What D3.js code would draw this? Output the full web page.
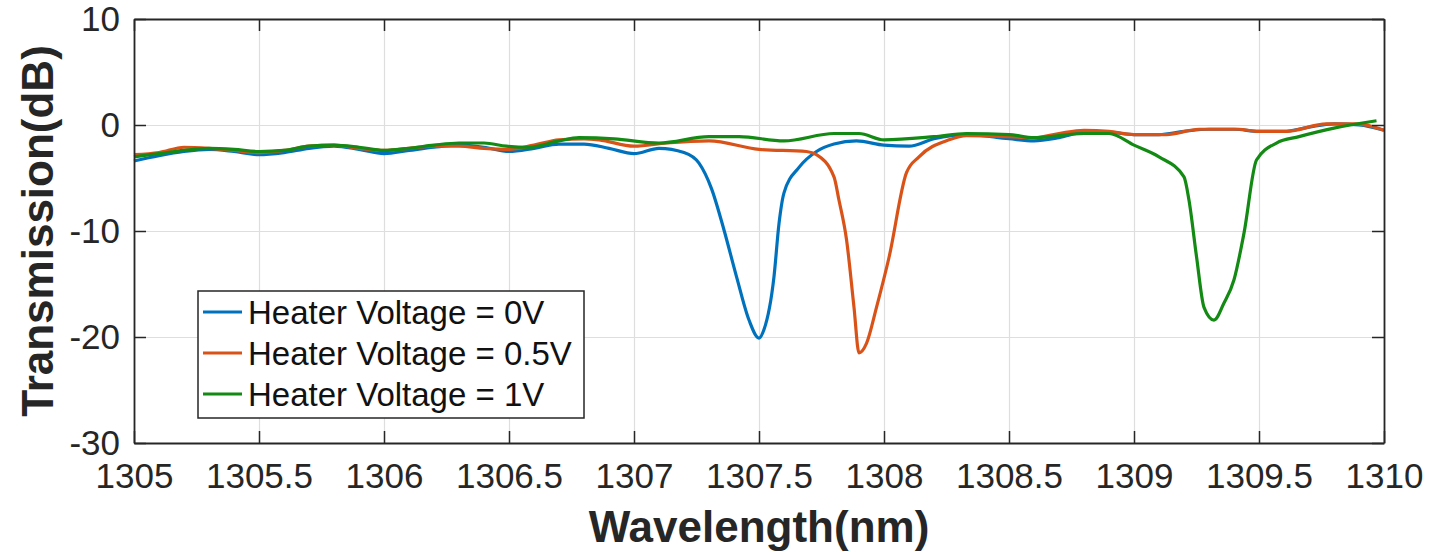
<!DOCTYPE html>
<html>
<head>
<meta charset="utf-8">
<script src="https://cdn.jsdelivr.net/npm/d3@7"></script>
<style>
  body { margin: 0; background: #fff; }
  svg { display: block; font-family: "Liberation Sans", Arial, Helvetica, sans-serif; }
  .tick line { stroke: #262626; }
  .grid .tick line { stroke: #dedede; stroke-width: 1.2; }
  .grid path { display: none; }
</style>
</head>
<body>
<svg id="vis" width="1430" height="552"></svg>
<script>
// wavelength (nm) and transmission (dB), per heater voltage
const wl0 = [1305.00, 1305.10, 1305.20, 1305.30, 1305.40, 1305.50, 1305.60, 1305.70, 1305.80, 1305.90,
  1306.00, 1306.10, 1306.20, 1306.30, 1306.40, 1306.50, 1306.60, 1306.70, 1306.80, 1306.90,
  1307.00, 1307.10, 1307.20, 1307.26, 1307.31, 1307.36, 1307.41, 1307.46, 1307.50, 1307.52,
  1307.56, 1307.58, 1307.60, 1307.66, 1307.73, 1307.80, 1307.89, 1308.00, 1308.10, 1308.20,
  1308.33, 1308.50, 1308.60, 1308.70, 1308.80, 1308.90, 1309.00, 1309.10, 1309.20, 1309.30,
  1309.40, 1309.50, 1309.60, 1309.70, 1309.80, 1309.90, 1310.00];
const tr0 = [-3.4, -2.9, -2.5, -2.3, -2.5, -2.8, -2.6, -2.2, -2.0, -2.3,
  -2.7, -2.4, -2.1, -1.9, -2.1, -2.5, -2.2, -1.8, -1.8, -2.2,
  -2.7, -2.2, -2.6, -3.6, -6.0, -9.9, -14.3, -18.4, -20.1, -19.3,
  -14.3, -9.3, -6.4, -4.0, -2.5, -1.8, -1.5, -1.9, -2.0, -1.3,
  -0.9, -1.3, -1.5, -1.2, -0.7, -0.7, -0.9, -0.9, -0.6, -0.4,
  -0.4, -0.6, -0.6, -0.2, 0.1, 0.0, -0.5];

const wl05 = [1305.00, 1305.10, 1305.20, 1305.30, 1305.40, 1305.50, 1305.60, 1305.70, 1305.80, 1305.90,
  1306.00, 1306.10, 1306.20, 1306.30, 1306.40, 1306.50, 1306.60, 1306.70, 1306.80, 1306.86,
  1307.00, 1307.13, 1307.30, 1307.50, 1307.69, 1307.73, 1307.80, 1307.82, 1307.85, 1307.88,
  1307.90, 1307.93, 1307.97, 1308.02, 1308.09, 1308.14, 1308.26, 1308.33, 1308.50, 1308.60,
  1308.70, 1308.80, 1308.90, 1309.00, 1309.13, 1309.26, 1309.42, 1309.49, 1309.61, 1309.77,
  1309.89, 1310.00];
const tr05 = [-2.8, -2.6, -2.1, -2.2, -2.4, -2.6, -2.4, -2.0, -1.9, -2.2,
  -2.4, -2.2, -2.0, -2.0, -2.2, -2.3, -1.9, -1.4, -1.3, -1.4,
  -2.0, -1.7, -1.5, -2.3, -2.5, -2.8, -4.9, -7.1, -10.8, -17.2,
  -21.5, -20.6, -17.2, -12.5, -4.5, -3.0, -1.4, -1.0, -1.1, -1.2,
  -0.8, -0.5, -0.6, -0.9, -0.9, -0.4, -0.4, -0.6, -0.6, 0.1,
  0.1, -0.5];

const wl1 = [1305.00, 1305.10, 1305.20, 1305.30, 1305.40, 1305.50, 1305.60, 1305.70, 1305.80, 1305.90,
  1306.00, 1306.10, 1306.20, 1306.30, 1306.40, 1306.49, 1306.58, 1306.70, 1306.78, 1306.92,
  1307.10, 1307.30, 1307.42, 1307.60, 1307.80, 1307.90, 1308.00, 1308.20, 1308.33, 1308.50,
  1308.60, 1308.80, 1308.90, 1309.00, 1309.10, 1309.20, 1309.22, 1309.25, 1309.28, 1309.32,
  1309.36, 1309.40, 1309.44, 1309.49, 1309.57, 1309.66, 1309.80, 1309.97];
const tr1 = [-3.0, -2.7, -2.4, -2.2, -2.3, -2.5, -2.4, -2.0, -1.9, -2.1,
  -2.4, -2.2, -1.9, -1.7, -1.7, -2.0, -2.1, -1.5, -1.2, -1.3,
  -1.7, -1.1, -1.1, -1.5, -0.8, -0.8, -1.4, -1.1, -0.8, -0.9,
  -1.2, -0.8, -0.8, -1.9, -3.0, -4.9, -7.1, -12.4, -17.2, -18.4,
  -16.8, -14.6, -10.2, -3.3, -1.7, -1.1, -0.3, 0.4];

const seriesNames = ["Heater Voltage = 0V", "Heater Voltage = 0.5V", "Heater Voltage = 1V"];
const xTicks = [1305, 1305.5, 1306, 1306.5, 1307, 1307.5, 1308, 1308.5, 1309, 1309.5, 1310];
const yTicks = [-30, -20, -10, 0, 10];

// MATLAB-like line colours
const colors = ["#0072bd", "#d95319", "#138a13"];

var svg = d3.select("svg#vis");

var attr = {
  margin: { top: 19, left: 134 },
  width: 1250,
  height: 424
};

var x = d3.scaleLinear().domain([1305, 1310]).range([0, attr.width]);
var y = d3.scaleLinear().domain([-30, 10]).range([attr.height, 0]);

// plain labels like MATLAB: "1305.5", "-10"
var plainFormat = d => String(d);

var plot = svg.append("g")
  .attr("transform", translate(attr.margin.left, attr.margin.top));

// grid
plot.append("g")
  .attr("class", "grid")
  .attr("transform", translate(0, attr.height))
  .call(d3.axisBottom(x).tickValues(xTicks).tickSize(-attr.height).tickFormat(""));
plot.append("g")
  .attr("class", "grid")
  .call(d3.axisLeft(y).tickValues(yTicks).tickSize(-attr.width).tickFormat(""));

// lines
var line = d3.line()
  .x(d => x(d[0]))
  .y(d => y(d[1]))
  .curve(d3.curveMonotoneX);

var series = [
  d3.zip(wl0, tr0),
  d3.zip(wl05, tr05),
  d3.zip(wl1, tr1)
];

plot.selectAll("path.trace")
  .data(series)
  .enter()
  .append("path")
  .attr("class", "trace")
  .attr("d", line)
  .attr("fill", "none")
  .attr("stroke", (d, i) => colors[i])
  .attr("stroke-width", 3.2)
  .attr("stroke-linejoin", "round");

// axes, ticks inward on all four sides
function styleAxis(g) {
  g.select(".domain").attr("stroke", "#262626").attr("stroke-width", 1.8);
  g.selectAll(".tick line").attr("stroke", "#262626").attr("stroke-width", 1.5);
  g.selectAll(".tick text")
    .attr("fill", "#262626")
    .style("font-size", "35px")
    .style("font-family", "'Liberation Sans', Arial, sans-serif");
}

plot.append("g")
  .attr("transform", translate(0, attr.height))
  .call(d3.axisBottom(x).tickValues(xTicks).tickFormat(plainFormat)
    .tickSizeInner(-12).tickSizeOuter(0).tickPadding(20))
  .call(styleAxis);

plot.append("g")
  .call(d3.axisTop(x).tickValues(xTicks).tickSizeInner(-12).tickSizeOuter(0).tickFormat(""))
  .call(styleAxis);

plot.append("g")
  .call(d3.axisLeft(y).tickValues(yTicks).tickFormat(plainFormat)
    .tickSizeInner(-12).tickSizeOuter(0).tickPadding(14))
  .call(styleAxis);

plot.append("g")
  .attr("transform", translate(attr.width, 0))
  .call(d3.axisRight(y).tickValues(yTicks).tickSizeInner(-12).tickSizeOuter(0).tickFormat(""))
  .call(styleAxis);

// axis titles
svg.append("text")
  .attr("x", attr.margin.left + attr.width / 2)
  .attr("y", 542)
  .attr("text-anchor", "middle")
  .style("font-size", "44px")
  .style("font-weight", "bold")
  .attr("fill", "#262626")
  .text("Wavelength(nm)");

svg.append("text")
  .attr("transform", translate(53, attr.margin.top + attr.height / 2) + " rotate(-90)")
  .attr("text-anchor", "middle")
  .style("font-size", "44px")
  .style("font-weight", "bold")
  .attr("fill", "#262626")
  .text("Transmission(dB)");

// legend
var legend = svg.append("g").attr("transform", translate(198, 291));

legend.append("rect")
  .attr("width", 386)
  .attr("height", 127)
  .attr("fill", "#fff")
  .attr("stroke", "#262626")
  .attr("stroke-width", 1.5);

var rows = legend.selectAll("g.row")
  .data(seriesNames)
  .enter()
  .append("g")
  .attr("class", "row")
  .attr("transform", (d, i) => translate(0, 21 + i * 41));

rows.append("line")
  .attr("x1", 5)
  .attr("x2", 44)
  .attr("stroke", (d, i) => colors[i])
  .attr("stroke-width", 3.2);

rows.append("text")
  .attr("x", 50)
  .attr("y", 12)
  .style("font-size", "33px")
  .attr("fill", "#111")
  .text(d => d);

function translate(x, y) {
  return "translate(" + String(x) + "," + String(y) + ")";
}
</script>
</body>
</html>
